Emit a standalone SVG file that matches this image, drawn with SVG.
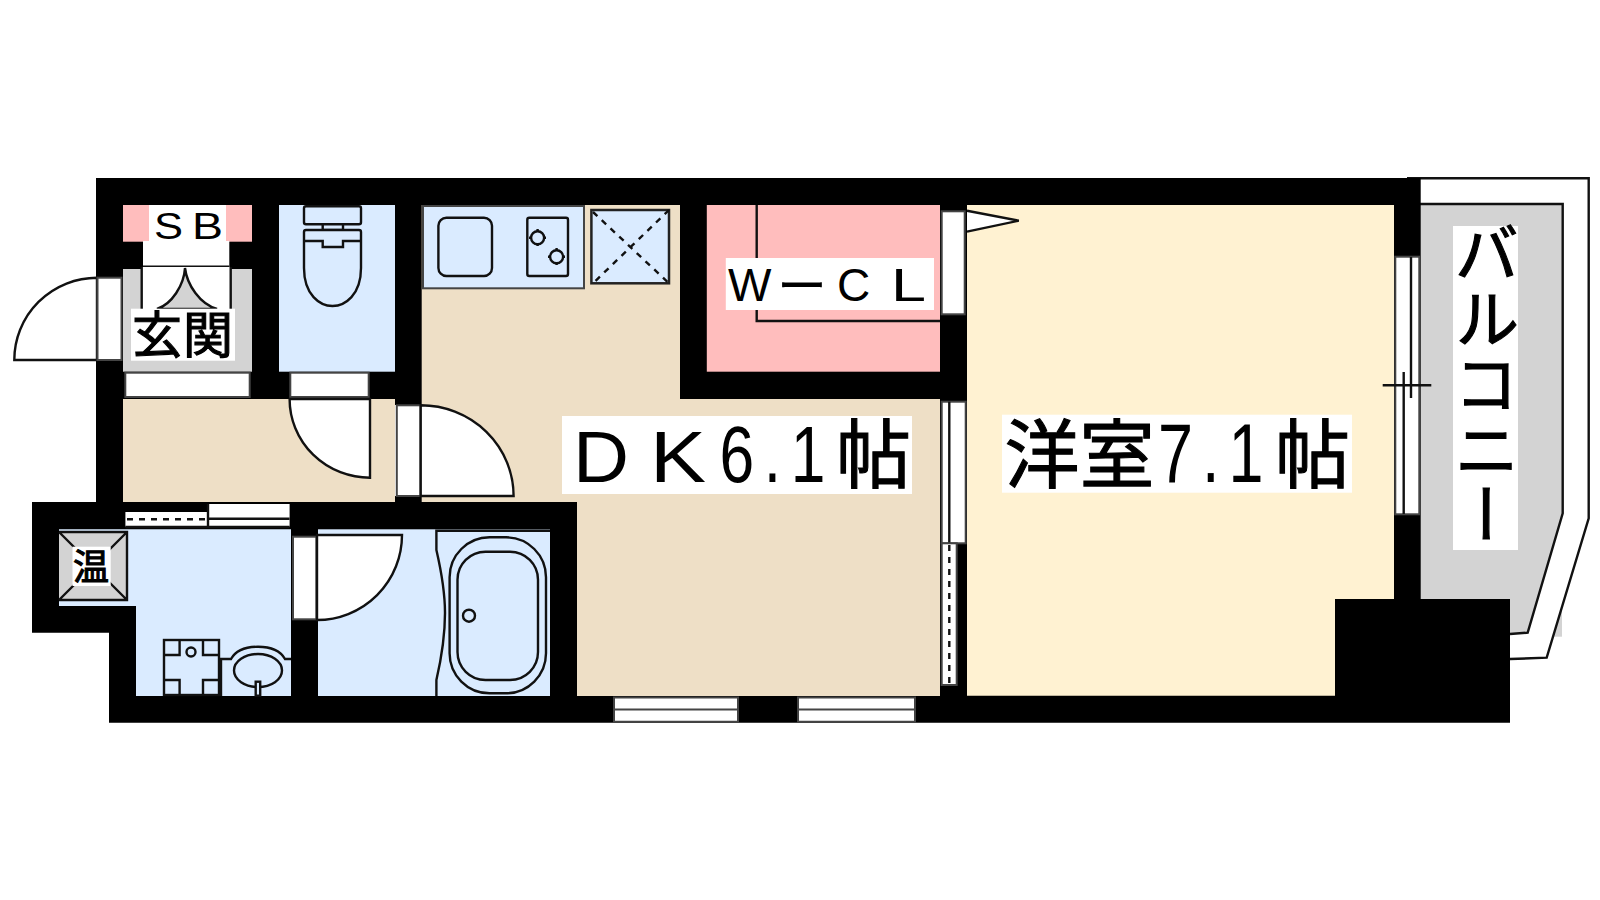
<svg xmlns="http://www.w3.org/2000/svg" width="1600" height="900" viewBox="0 0 1600 900">
<style>
.ln{fill:none;stroke:#111;stroke-width:2.400}
.gl{fill:#fff;stroke:#444;stroke-width:2}
.fx{fill:#daebff;stroke:#111;stroke-width:2.400}
.d{fill:none;stroke:#111;stroke-width:2.400;stroke-dasharray:6 6}
.w{fill:#fff}
.jp{font-family:"Noto Sans CJK JP","Liberation Sans",sans-serif;fill:#000;stroke:#000;stroke-width:1.100}
.la{font-family:"Liberation Sans","Noto Sans CJK JP",sans-serif;fill:#000}
.l{font-family:"Liberation Sans",sans-serif}
</style>
<rect width="1600" height="900" fill="#fff"/>
<rect x="1420" y="204" width="142" height="432.700" fill="#d3d3d3"/>
<path d="M1407 178.300H1588.700V518.300L1546.700 657.700L1510 659V634L1527.700 632.700L1562.700 513.300V204H1420V178.300Z" fill="#fff"/>
<path d="M1407 178.300H1588.700V518.300L1546.700 657.700L1510 659" class="ln"/>
<path d="M1420 204H1562.700V513.300L1527.700 632.700L1510 634" class="ln"/>
<path d="M96 178H1420.700V599H1510V722.700H109V632.700H32V502H96Z" fill="#000"/>
<g id="rooms">
<rect x="123" y="205" width="129" height="36.700" fill="#ffbdbd"/>
<rect x="123" y="269" width="129" height="102.700" fill="#d3d3d3"/>
<rect x="279" y="205" width="116" height="166.700" fill="#daebff"/>
<rect x="123" y="399" width="272" height="103" fill="#eedfc6"/>
<path d="M421.700 205H680V399H940V696H577V502H421.700Z" fill="#eedfc6"/>
<rect x="706.800" y="205" width="233.200" height="166.700" fill="#ffbdbd"/>
<path d="M967 205H1394V599H1335V695.700H967Z" fill="#fff2d2"/>
<path d="M59 529.300H291V696H136V606H59Z" fill="#daebff"/>
<rect x="318" y="529.300" width="232" height="166.700" fill="#daebff"/>
</g>
<g id="openings">
<rect class="w" x="143" y="241" width="86.300" height="26"/>
<path class="ln" d="M143 266.700H229.300"/>
<rect class="w" x="142" y="267" width="89" height="42"/>
<path d="M185 268C184 285 172 304 157 309H217C200 304 187 285 185 268Z" fill="#d3d3d3" stroke="#111" stroke-width="2.400"/>
<path class="ln" d="M141.700 267V309M230.700 267V309"/>
<path d="M97 277.700A83 82.300 0 0 0 14.300 360H97Z" class="w" stroke="#111" stroke-width="2.400"/>
<rect class="gl" x="97.500" y="277.700" width="24" height="82.300"/>
<rect class="gl" x="125.300" y="372.700" width="124.400" height="24.300"/>
<rect class="gl" x="290.300" y="372.700" width="78.400" height="24.300"/>
<path d="M289.600 399A80.400 78.700 0 0 0 370 477.700V399Z" class="w" stroke="#111" stroke-width="2.400"/>
<rect class="w" x="395" y="405" width="26.700" height="91"/>
<rect class="gl" x="396.800" y="405.300" width="23.700" height="90.700"/>
<path d="M420.700 405.300A92.900 90.700 0 0 1 513.600 496H420.700Z" class="w" stroke="#111" stroke-width="2.400"/>
<rect class="w" x="125.400" y="512" width="82.100" height="14.700"/>
<path class="d" d="M127 519.300H207"/>
<rect class="w" x="208" y="504" width="81.600" height="22.700"/>
<path class="ln" d="M208 504V527M208 518.700H289.600M125.400 527H289.600"/>
<rect class="gl" x="293" y="536.700" width="23.400" height="82.600"/>
<path d="M317 535H402A85 85 0 0 1 317 620Z" class="w" stroke="#111" stroke-width="2.400"/>
<rect class="gl" x="941.700" y="211.300" width="23" height="103"/>
<path d="M967 210.700L1018.800 220.700L967 231.700Z" fill="#fff"/>
<path d="M967 210.700L1018.800 220.700L967 231.700" class="ln"/>
<rect class="gl" x="941.700" y="401.700" width="24" height="141.600"/>
<path class="ln" d="M949.300 401.700V543.300"/>
<rect class="gl" x="941.700" y="543.300" width="15" height="141.700"/>
<path class="d" d="M949.300 545V685"/>
<rect class="gl" x="1395.300" y="256.700" width="24" height="257.600"/>
<path class="ln" d="M1411 257V398M1403.700 372V514M1382.700 385.300H1431.300"/>
<path class="gl" d="M614 697.500H738V721.700H614ZM798 697.500H915V721.700H798ZM614 709.500H738M798 709.500H915"/>
</g>
<g id="closet"><path class="ln" d="M756.700 205V321H940"/></g>
<g id="toilet">
<rect class="fx" x="304" y="206.300" width="57" height="18" rx="2"/>
<rect class="fx" x="322.700" y="224.300" width="20.300" height="5.700"/>
<path class="fx" d="M304 232Q304 230 306 230H359Q361 230 361 232V268C361 295 345 306 332.500 306C320 306 304 295 304 268Z"/>
<path class="ln" d="M304 241H322.700V247H343V241H361"/>
</g>
<g id="kitchen">
<rect x="423" y="206" width="161" height="82.300" fill="#daebff" stroke="#444" stroke-width="2"/>
<rect class="fx" x="438.400" y="217.700" width="53.600" height="58.300" rx="8"/>
<rect class="fx" x="527.300" y="217.700" width="40.700" height="58.300" rx="2"/>
<circle class="fx" cx="537.600" cy="237.700" r="6.500" stroke-width="3"/>
<circle class="fx" cx="556.600" cy="256.700" r="6.500" stroke-width="3"/>
<path class="ln" d="M529 237.700H532M543 237.700H546M537.600 229V232M537.600 243V246M548 256.700H551M562 256.700H565M556.600 248V251M556.600 262V265"/>
<rect x="591.400" y="210" width="77.600" height="73.300" fill="#daebff" stroke="#222" stroke-width="2.500"/>
<path class="d" d="M593 212L669 283.300M669 210L593 283.300"/>
</g>
<g id="heater">
<rect x="59" y="532" width="68" height="68" fill="#d3d3d3"/>
<path class="ln" d="M59 532H127V600H59M59 532L127 600M127 532L59 600"/>
</g>
<g id="washroom">
<rect x="164" y="640" width="55" height="55" fill="#daebff" stroke="#111" stroke-width="2.400"/>
<path class="ln" d="M164 655H179.600V640M203 640V655H219M164 680H179.600V695M203 695V680H219"/>
<circle class="fx" cx="191" cy="652" r="4.500"/>
<path class="ln" d="M221 696V659H231C236 650 246 646.700 258 646.700C270 646.700 280 650 285 659H291"/>
<ellipse class="ln" cx="258" cy="670.500" rx="24" ry="16.500"/>
<rect class="fx" x="255.700" y="681.700" width="4.500" height="14"/>
</g>
<g id="bath">
<path class="ln" d="M550 530.700H436.400V550C441 570 445 590 445 613C445 640 441 660 436.400 680V696"/>
<rect class="ln" x="449.600" y="537.300" width="96.400" height="156" rx="40"/>
<rect class="ln" x="457.500" y="551.700" width="80.500" height="128.300" rx="28"/>
<circle class="ln" cx="469" cy="615.700" r="6"/>
</g>
<g id="labels">
<rect class="w" x="149" y="205" width="77" height="36.700"/>
<text class="la" font-size="37" y="239"><tspan x="154" textLength="29" lengthAdjust="spacingAndGlyphs">S</tspan><tspan x="192" textLength="31" lengthAdjust="spacingAndGlyphs">B</tspan></text>
<rect class="w" x="131" y="308.700" width="104" height="52"/>
<text class="jp" font-size="50" y="353" x="132 183">玄関</text>
<rect class="w" x="725.800" y="258" width="208.200" height="52"/>
<text class="la" font-size="46" y="300.700"><tspan x="728">W</tspan><tspan x="777" font-family="Noto Sans CJK JP" font-size="50" dy="3">ー</tspan><tspan x="837" dy="-3">C</tspan><tspan x="891" textLength="35" lengthAdjust="spacingAndGlyphs">L</tspan></text>
<rect class="w" x="72.500" y="546.700" width="38.200" height="39.300"/>
<text class="jp" font-size="36" y="580" x="73">温</text>
<rect class="w" x="562" y="416" width="350" height="78"/>
<text class="la" font-size="72" y="481.700"><tspan x="573" textLength="56" lengthAdjust="spacingAndGlyphs">D</tspan><tspan x="650" textLength="56" lengthAdjust="spacingAndGlyphs">K</tspan><tspan x="719.500" font-size="80" letter-spacing="12.300" textLength="115.500" lengthAdjust="spacingAndGlyphs">6.1</tspan><tspan x="836" font-size="75" font-family="Noto Sans CJK JP" stroke="#000" stroke-width="1.100">帖</tspan></text>
<rect class="w" x="1002" y="414.700" width="350" height="78"/>
<text class="jp" font-size="75" y="481.700" x="1004.500 1079.500"><tspan>洋室</tspan><tspan class="l" x="1158" font-size="84" stroke="none" letter-spacing="12" textLength="114.500" lengthAdjust="spacingAndGlyphs">7.1</tspan><tspan x="1275">帖</tspan></text>
<rect class="w" x="1453" y="226" width="65" height="324"/>
<text class="jp" font-size="65" x="1486.700" y="220" letter-spacing="0.500" writing-mode="vertical-rl">バルコニー</text>
</g>
</svg>
